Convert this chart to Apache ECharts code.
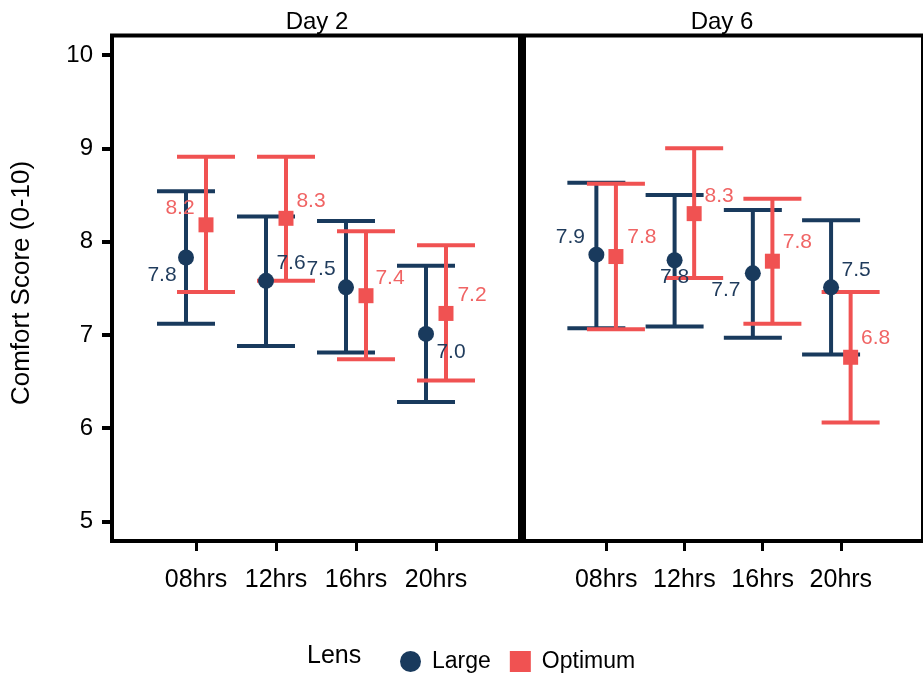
<!DOCTYPE html>
<html>
<head>
<meta charset="utf-8">
<script src="https://cdn.jsdelivr.net/npm/echarts@6/dist/echarts.min.js"></script>
<style>html,body{margin:0;padding:0;background:#fff}#c{width:923px;height:673px}</style>
</head>
<body>
<div id="c"></div>
<script>
const categories = ['08hrs', '12hrs', '16hrs', '20hrs'];
const panels = ['Day 2', 'Day 6'];
const lensGroups = ['Large', 'Optimum'];
const yTicks = [5, 6, 7, 8, 9, 10];

// Day 2
const day2LargeMean = [7.83, 7.58, 7.51, 7.01];
const day2LargeLow  = [7.12, 6.88, 6.81, 6.28];
const day2LargeHigh = [8.54, 8.27, 8.22, 7.74];
const day2OptMean   = [8.18, 8.25, 7.42, 7.23];
const day2OptLow    = [7.46, 7.58, 6.74, 6.51];
const day2OptHigh   = [8.91, 8.91, 8.11, 7.96];
// Day 6
const day6LargeMean = [7.86, 7.80, 7.66, 7.51];
const day6LargeLow  = [7.07, 7.09, 6.97, 6.79];
const day6LargeHigh = [8.63, 8.50, 8.34, 8.23];
const day6OptMean   = [7.84, 8.30, 7.79, 6.76];
const day6OptLow    = [7.06, 7.61, 7.12, 6.06];
const day6OptHigh   = [8.62, 9.00, 8.46, 7.46];

// layout: label offsets (px) relative to each point
const labelOffsets = {
  d2L: [[-24, 18], [25, -18], [-25, -18], [25, 18]],
  d2O: [[-26, -17], [25, -17], [24, -18], [26, -18]],
  d6L: [[-26, -17], [0, 17], [-27, 17], [25, -17]],
  d6O: [[26, -19], [25, -17], [25, -19], [25, -19]]
};

const FONT = "'Liberation Sans', Arial, Helvetica, sans-serif";
const NAVY = '#193a5d';
const RED = '#f05252';
const NAVY_LABEL = '#1f3b5c';
const RED_LABEL = '#f06464';
const DODGE = 0.125;
const CAP_HALF = 29;

const panelData = [
  { L: [day2LargeMean, day2LargeLow, day2LargeHigh], O: [day2OptMean, day2OptLow, day2OptHigh], offL: labelOffsets.d2L, offO: labelOffsets.d2O },
  { L: [day6LargeMean, day6LargeLow, day6LargeHigh], O: [day6OptMean, day6OptLow, day6OptHigh], offL: labelOffsets.d6L, offO: labelOffsets.d6O }
];

function errorSeries(p, arr, dodge, color, z) {
  return {
    type: 'custom',
    xAxisIndex: p, yAxisIndex: p,
    z: z,
    silent: true,
    clip: false,
    data: categories.map((c, i) => [i + dodge, arr[1][i], arr[2][i]]),
    renderItem: function (params, api) {
      const x = api.value(0);
      const top = api.coord([x, api.value(2)]);
      const bot = api.coord([x, api.value(1)]);
      const st = { stroke: color, lineWidth: 4, lineCap: 'butt' };
      return {
        type: 'group',
        children: [
          { type: 'line', shape: { x1: top[0], y1: top[1], x2: bot[0], y2: bot[1] }, style: st },
          { type: 'line', shape: { x1: top[0] - CAP_HALF, y1: top[1], x2: top[0] + CAP_HALF, y2: top[1] }, style: st },
          { type: 'line', shape: { x1: bot[0] - CAP_HALF, y1: bot[1], x2: bot[0] + CAP_HALF, y2: bot[1] }, style: st }
        ]
      };
    }
  };
}

function pointSeries(p, name, arr, offs, dodge, color, labelColor, symbol) {
  return {
    type: 'scatter',
    name: name,
    xAxisIndex: p, yAxisIndex: p,
    z: 5,
    symbol: symbol,
    symbolSize: symbol === 'circle' ? 16 : 15,
    itemStyle: { color: color, opacity: 1 },
    data: categories.map((c, i) => ({
      value: [i + dodge, arr[0][i]],
      label: { offset: offs[i] }
    })),
    label: {
      show: true,
      position: 'inside',
      formatter: (d) => d.value[1].toFixed(1),
      color: labelColor,
      fontSize: 21,
      fontFamily: FONT
    },
    emphasis: { disabled: true }
  };
}

const series = [];
panelData.forEach((pd, p) => {
  series.push(errorSeries(p, pd.L, -DODGE, NAVY, 2));
  series.push(errorSeries(p, pd.O, DODGE, RED, 3));
});
panelData.forEach((pd, p) => {
  series.push(pointSeries(p, lensGroups[0], pd.L, pd.offL, -DODGE, NAVY, NAVY_LABEL, 'circle'));
  series.push(pointSeries(p, lensGroups[1], pd.O, pd.offO, DODGE, RED, RED_LABEL, 'rect'));
});

const gridBase = { top: 35.5, height: 505.5, width: 408, show: true, borderColor: '#000', borderWidth: 4, backgroundColor: '#fff' };

const xAxes = panels.map((d, p) => ({
  type: 'value', gridIndex: p, min: -1.05, max: 4.05,
  splitLine: { show: false },
  axisLine: { show: false, onZero: false },
  axisTick: { show: true, customValues: [0, 1, 2, 3], length: 10, lineStyle: { color: '#000', width: 3 } },
  axisLabel: { customValues: [0, 1, 2, 3], formatter: (v) => categories[Math.round(v)], fontSize: 25, color: '#000', fontFamily: FONT, margin: 27 }
}));

const yAxes = panels.map((d, p) => ({
  type: 'value', gridIndex: p, min: 4.79, max: 10.21,
  position: 'left',
  splitLine: { show: false },
  axisLine: { show: false, onZero: false },
  axisTick: { show: p === 0, customValues: yTicks, length: 10, lineStyle: { color: '#000', width: 4 } },
  axisLabel: { show: p === 0, customValues: yTicks, fontSize: 24, color: '#000', fontFamily: FONT, margin: 19 }
}));

const chart = echarts.init(document.getElementById('c'), null, { renderer: 'canvas' });
chart.setOption({
  backgroundColor: '#fff',
  animation: false,
  grid: [
    Object.assign({ left: 112 }, gridBase),
    Object.assign({ left: 524 }, gridBase)
  ],
  xAxis: xAxes,
  yAxis: yAxes,
  legend: {
    left: 395, top: 645,
    itemWidth: 21, itemHeight: 21, itemGap: 19,
    data: [{ name: lensGroups[0], icon: 'circle' }, { name: lensGroups[1], icon: 'rect' }],
    textStyle: { fontSize: 23, color: '#000', fontFamily: FONT, padding: [0, 0, 0, 6] }
  },
  graphic: [
    { type: 'text', x: 317, y: 22, style: { text: panels[0], fontSize: 24, fontFamily: FONT, fill: '#000', align: 'center', verticalAlign: 'middle' } },
    { type: 'text', x: 722, y: 22, style: { text: panels[1], fontSize: 24, fontFamily: FONT, fill: '#000', align: 'center', verticalAlign: 'middle' } },
    { type: 'text', x: 22, y: 283, rotation: Math.PI / 2, style: { text: 'Comfort Score (0-10)', fontSize: 26, fontFamily: FONT, fill: '#000', align: 'center', verticalAlign: 'middle' } },
    { type: 'text', x: 307, y: 656, style: { text: 'Lens', fontSize: 25, fontFamily: FONT, fill: '#000', align: 'left', verticalAlign: 'middle' } }
  ],
  series: series
});
</script>
</body>
</html>
